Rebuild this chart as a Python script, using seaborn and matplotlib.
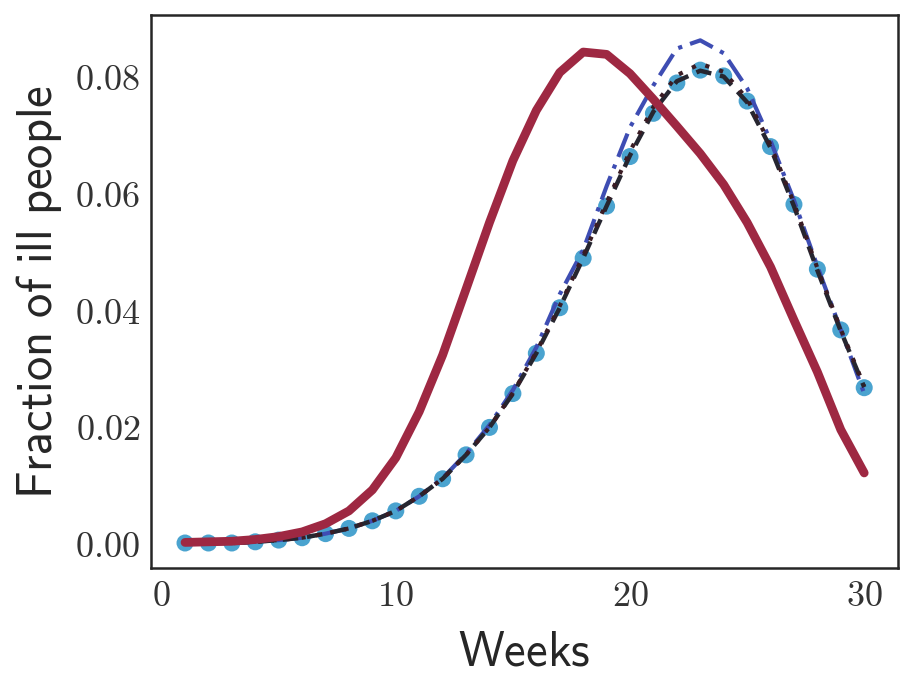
import numpy as np
import pandas as pd
import matplotlib
matplotlib.use("Agg")
import matplotlib.pyplot as plt
import seaborn as sns
from matplotlib.ticker import FuncFormatter

weeks = list(range(1, 31))

# observed (dots)
observed = [0.0001, 0.0001, 0.0001, 0.0003, 0.0006, 0.0010, 0.0017, 0.0026, 0.0039, 0.0056,
            0.0081, 0.0111, 0.0152, 0.0199, 0.0257, 0.0326, 0.0404, 0.0489, 0.0578, 0.0663,
            0.0737, 0.0789, 0.0811, 0.0801, 0.0758, 0.0680, 0.0581, 0.0470, 0.0366, 0.0267]

# model A (dash-dot blue)
model_a = [0.0001, 0.0001, 0.0001, 0.0003, 0.0006, 0.0010, 0.0017, 0.0026, 0.0039, 0.0056,
           0.0081, 0.0112, 0.0154, 0.0203, 0.0263, 0.0336, 0.0427, 0.0503, 0.0612, 0.0713,
           0.0785, 0.0848, 0.0862, 0.0840, 0.0780, 0.0690, 0.0588, 0.0475, 0.0366, 0.0257]

# model B (dashed black)
model_b = [0.0001, 0.0001, 0.0001, 0.0003, 0.0006, 0.0010, 0.0017, 0.0026, 0.0039, 0.0056,
           0.0081, 0.0111, 0.0152, 0.0199, 0.0257, 0.0326, 0.0404, 0.0489, 0.0578, 0.0665,
           0.0740, 0.0792, 0.0810, 0.0800, 0.0756, 0.0678, 0.0578, 0.0468, 0.0364, 0.0268]

# model C (dotted)
model_c = [0.0001, 0.0001, 0.0001, 0.0003, 0.0006, 0.0010, 0.0017, 0.0026, 0.0039, 0.0056,
           0.0081, 0.0111, 0.0152, 0.0199, 0.0258, 0.0328, 0.0407, 0.0493, 0.0584, 0.0672,
           0.0748, 0.0802, 0.0822, 0.0808, 0.0762, 0.0683, 0.0583, 0.0472, 0.0367, 0.0270]

# model D (red solid)
model_d = [0.0002, 0.0003, 0.0004, 0.0007, 0.0012, 0.0020, 0.0034, 0.0056, 0.0092, 0.0147,
           0.0226, 0.0323, 0.0436, 0.0550, 0.0656, 0.0742, 0.0807, 0.0842, 0.0838, 0.0805,
           0.0761, 0.0715, 0.0668, 0.0615, 0.0550, 0.0474, 0.0383, 0.0294, 0.0195, 0.0121]

df = pd.DataFrame({"week": weeks, "obs": observed, "a": model_a, "b": model_b,
                   "c": model_c, "d": model_d})

sns.set_style("white")
plt.rcParams["mathtext.fontset"] = "cm"

fig = plt.figure(figsize=(9.1, 6.92), dpi=100)
ax = fig.add_axes([0.166, 0.179, 0.821, 0.799])

sns.scatterplot(data=df, x="week", y="obs", ax=ax, color="#4aa3cf", s=150,
                edgecolor="none", zorder=2)
sns.lineplot(data=df, x="week", y="a", ax=ax, color="#3e4db3", lw=3,
             linestyle=(0, (6, 2, 1, 2)), zorder=3)
sns.lineplot(data=df, x="week", y="b", ax=ax, color="#262630", lw=3.2,
             linestyle=(0, (3.5, 2)), zorder=4)
sns.lineplot(data=df, x="week", y="c", ax=ax, color="#3a1c24", lw=3,
             linestyle=(0, (1, 2.5)), zorder=5)
sns.lineplot(data=df, x="week", y="d", ax=ax, color="#9e2842", lw=6.3, zorder=6)

ax.set_xticks([0, 10, 20, 30])
ax.set_yticks([0.0, 0.02, 0.04, 0.06, 0.08])
ax.xaxis.set_major_formatter(FuncFormatter(lambda v, p: f"${v:.0f}$"))
ax.yaxis.set_major_formatter(FuncFormatter(lambda v, p: f"${v:.2f}$"))
ax.tick_params(labelsize=26, length=0, pad=8, labelcolor="#333333")

ax.set_xlabel(r"$\mathsf{Weeks}$", fontsize=35, labelpad=10, color="#262626")
ax.set_ylabel(r"$\mathsf{Fraction\ of\ ill\ people}$", fontsize=35, labelpad=8,
              color="#262626")

for s in ax.spines.values():
    s.set_color("#262626")
    s.set_linewidth(1.8)

fig.savefig("out.png", dpi=100)
